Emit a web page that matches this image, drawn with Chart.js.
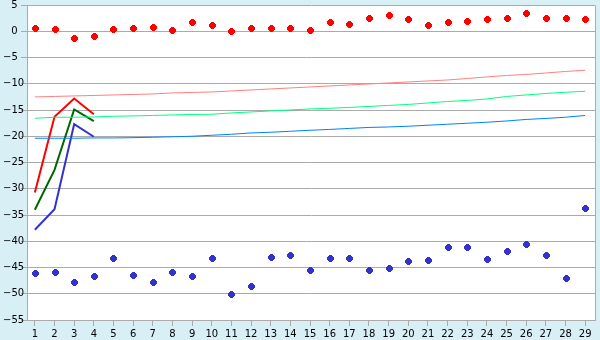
<!DOCTYPE html>
<html>
<head>
<meta charset="utf-8">
<script src="https://cdn.jsdelivr.net/npm/chart.js@4/dist/chart.umd.min.js"></script>
<style>html,body{margin:0;padding:0;background:#d9eff6;}canvas{display:block;}</style>
</head>
<body>
<canvas id="c" width="600" height="340"></canvas>
<script>
const categories = [1,2,3,4,5,6,7,8,9,10,11,12,13,14,15,16,17,18,19,20,21,22,23,24,25,26,27,28,29];
const yTicks = [5,0,-5,-10,-15,-20,-25,-30,-35,-40,-45,-50,-55];

const redPoints = [0.6,0.4,-1.3,-1.0,0.4,0.6,0.8,0.2,1.7,1.1,0.0,0.6,0.6,0.6,0.2,1.7,1.3,2.5,3.0,2.3,1.1,1.7,1.9,2.3,2.5,3.4,2.5,2.5,2.3];
const bluePoints = [-46.1,-45.9,-47.8,-46.7,-43.2,-46.5,-47.8,-45.9,-46.7,-43.2,-50.1,-48.6,-43.0,-42.7,-45.5,-43.2,-43.2,-45.5,-45.1,-43.8,-43.6,-41.1,-41.1,-43.4,-41.9,-40.6,-42.7,-47.0,-33.7];

const redLine = [-30.7,-16.3,-12.8,-15.8];
const greenLine = [-34.0,-26.4,-14.9,-17.1];
const blueLine = [-37.8,-33.9,-17.7,-20.1];

const redTrend = [-12.51,-12.42,-12.32,-12.23,-12.13,-12.04,-11.94,-11.75,-11.66,-11.56,-11.37,-11.18,-10.99,-10.80,-10.61,-10.42,-10.23,-10.04,-9.85,-9.66,-9.47,-9.28,-9.00,-8.70,-8.42,-8.23,-7.95,-7.66,-7.43];
const greenTrend = [-16.57,-16.38,-16.38,-16.32,-16.19,-16.13,-16.04,-15.94,-15.85,-15.81,-15.56,-15.37,-15.18,-14.99,-14.80,-14.67,-14.51,-14.32,-14.13,-13.94,-13.66,-13.37,-13.18,-12.90,-12.42,-12.13,-11.85,-11.62,-11.43];
const blueTrend = [-20.38,-20.38,-20.38,-20.32,-20.32,-20.27,-20.19,-20.10,-20.00,-19.81,-19.62,-19.37,-19.24,-19.05,-18.86,-18.70,-18.51,-18.32,-18.23,-18.09,-17.90,-17.71,-17.52,-17.33,-17.09,-16.80,-16.61,-16.38,-16.04];

function pts(arr){ return arr.map((v,i)=>({x:categories[i], y:v})); }

function marker(color){
  const c = document.createElement('canvas');
  c.width = 7; c.height = 7;
  const g = c.getContext('2d');
  g.fillStyle = color;
  g.fillRect(2,0,3,7);
  g.fillRect(0,2,7,3);
  g.fillRect(1,1,5,5);
  return c;
}

const BG = '#d9eff6';
const GRID = '#aaaaaa';

const bgPlugin = {
  id:'bg',
  beforeDraw(chart){
    const {ctx, chartArea:a} = chart;
    ctx.save();
    ctx.fillStyle = BG;
    ctx.fillRect(0,0,chart.width,chart.height);
    ctx.fillStyle = '#ffffff';
    ctx.fillRect(a.left,a.top,a.right-a.left,a.bottom-a.top);
    ctx.restore();
  },
  afterDatasetsDraw(chart){
    const ctx = chart.ctx;
    chart.data.datasets.forEach((ds,i)=>{
      if(!ds.markerColor) return;
      const img = marker(ds.markerColor);
      chart.getDatasetMeta(i).data.forEach(el=>{
        ctx.drawImage(img, Math.round(el.x)-3, Math.round(el.y)-3);
      });
    });
  },
  afterDraw(chart){
    const {ctx, chartArea:a} = chart;
    ctx.save();
    ctx.strokeStyle = GRID;
    ctx.lineWidth = 1;
    ctx.beginPath();
    const x = Math.round(a.right)+0.5;
    ctx.moveTo(x, Math.round(a.top)+0.5);
    ctx.lineTo(x, Math.round(a.bottom)+0.5);
    ctx.stroke();
    ctx.restore();
  }
};

const lineDs = (data,color,w)=>({type:'line', data:pts(data), borderColor:color, backgroundColor:color, borderWidth:w, pointRadius:0, tension:0, fill:false});
const pointDs = (data,color)=>({type:'scatter', data:pts(data), markerColor:color, backgroundColor:color, borderColor:color, pointRadius:0, pointHoverRadius:0, showLine:false});

new Chart(document.getElementById('c'), {
  type:'scatter',
  data:{ datasets:[
    lineDs(redTrend,'#ff8080',1),
    lineDs(greenTrend,'#00ff80',1),
    lineDs(blueTrend,'#0080ff',1),
    lineDs(redLine,'#ff0000',2),
    lineDs(greenLine,'#006600',2),
    lineDs(blueLine,'#3333cc',2),
    pointDs(redPoints,'#ff0000'),
    pointDs(bluePoints,'#3333cc')
  ]},
  options:{
    responsive:false,
    animation:false,
    devicePixelRatio:1,
    layout:{padding:{left:3,top:5,right:5,bottom:0}},
    plugins:{legend:{display:false}, tooltip:{enabled:false}},
    scales:{
      x:{
        type:'linear', min:0.6, max:29.5,
        afterBuildTicks(s){ s.ticks = categories.map(v=>({value:v})); },
        afterFit(s){ s.height = 20; s.paddingLeft = 0; s.paddingRight = 0; },
        grid:{drawOnChartArea:false, drawTicks:true, tickLength:6, color:GRID},
        border:{display:true, color:GRID},
        ticks:{font:{family:'DejaVu Sans', size:10}, color:'#000', padding:2, maxRotation:0, autoSkip:false,
          callback:(v)=>String(v)}
      },
      y:{
        type:'linear', min:-55, max:5,
        afterBuildTicks(s){ s.ticks = yTicks.map(v=>({value:v})); },
        afterFit(s){ s.width = 24; s.paddingTop = 0; s.paddingBottom = 0; },
        grid:{color:GRID, drawTicks:true, tickLength:6},
        border:{display:true, color:GRID},
        ticks:{font:{family:'DejaVu Sans', size:10}, color:'#000', crossAlign:'far', autoSkip:false,
          callback:(v)=> v<0 ? '\u2212'+Math.abs(v) : '\u2007\u2009'+v}
      }
    }
  },
  plugins:[bgPlugin]
});
</script>
</body>
</html>
